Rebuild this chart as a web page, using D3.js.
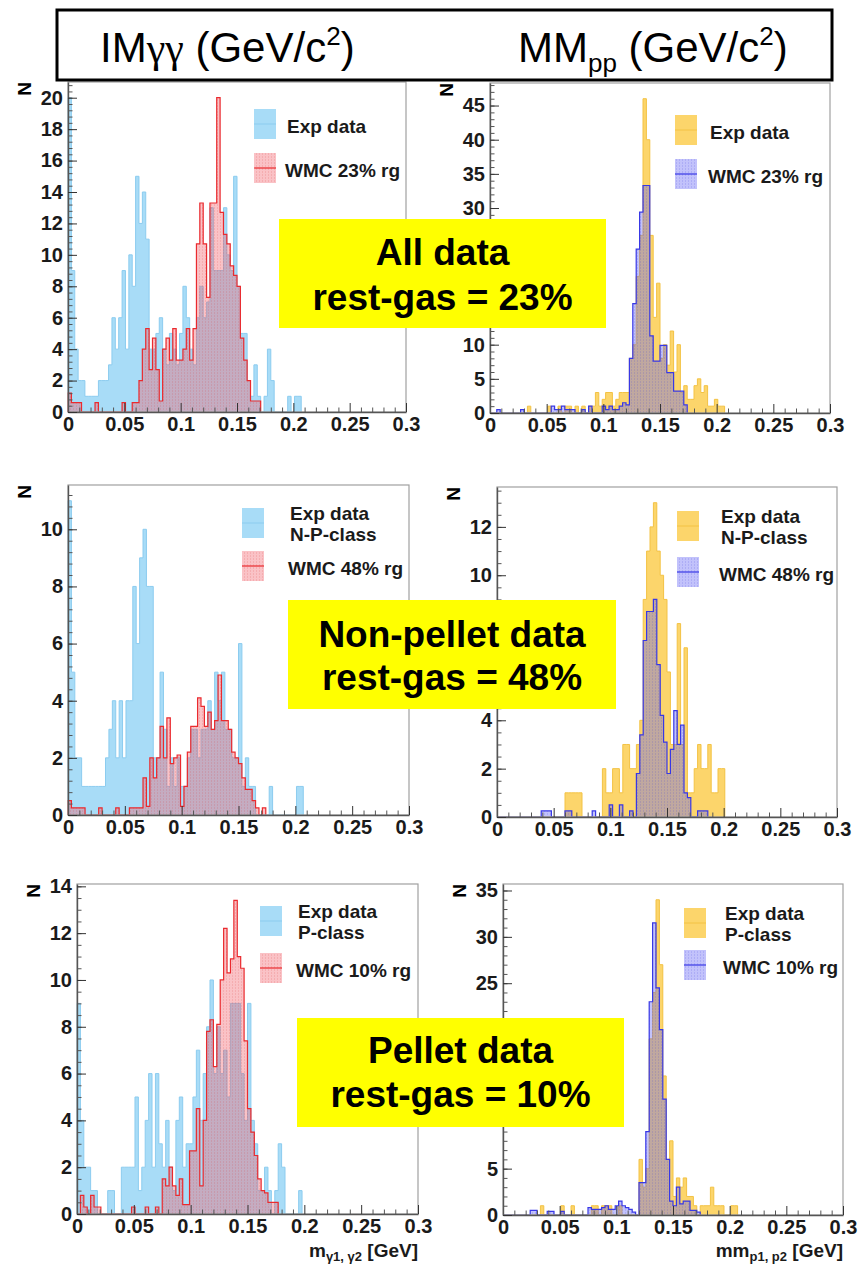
<!DOCTYPE html>
<html>
<head>
<meta charset="utf-8">
<script src="https://cdnjs.cloudflare.com/ajax/libs/d3/7.8.5/d3.min.js"></script>
<style>
  body { margin: 0; background: #fff; }
  svg { display: block; font-family: 'Liberation Sans', Arial, sans-serif; }
</style>
</head>
<body>
<div id="chart"></div>
<script>
var W = 859, H = 1267;
var binWidth = 0.003;
var xTicks = [0, 0.05, 0.1, 0.15, 0.2, 0.25, 0.3];

// histogram contents, one value per 0.003 GeV bin starting at 0
var imAllExp = [20, 9, 4, 2, 2, 1, 1, 1, 1, 2, 2, 2, 3, 6, 4, 6, 9, 4, 10, 8, 15, 12, 14, 11, 4, 4, 5, 6, 4, 3,
  5, 4, 3, 5, 8, 6, 4, 3, 6, 8, 6, 7, 13, 9, 9, 9, 13, 10, 9, 15, 8, 5, 5, 2, 1, 3, 1, 0, 1, 4,
  2, 0, 0, 0, 0, 1, 0, 1, 1];
var imAllMc = [1.2, 0.6, 0.6, 0.6, 0, 0, 0, 0, 0.6, 0, 0, 0, 0, 0, 0, 0, 0.6, 0, 0, 0.6, 0.6, 2, 4, 5.3, 2.7, 4.7, 2.7, 0.7, 4, 4.7,
  3.3, 5.3, 3.3, 3.3, 4, 5.3, 3.3, 5.3, 10.7, 13.3, 10.7, 7.3, 13.3, 13.3, 20, 12.7, 11.3, 10.7, 9.3, 8.7,
  8, 4.7, 3.3, 2, 0.7, 0.7, 0.7];

var mmAllExp = [0, 0, 0, 0, 0, 0, 0, 0, 0, 0, 0, 1, 0, 0, 0, 0, 0, 1, 0, 0, 1, 0, 1, 1, 0, 1, 0, 1, 0, 1,
  1, 3, 1, 2, 3, 3, 1, 2, 3, 3, 3, 8, 10, 20, 26, 46, 40, 26, 14, 19, 8, 10, 7, 12, 6, 10, 3, 4, 2, 2,
  4, 5, 3, 4, 1, 1, 2, 1, 1];
var mmAllMc = [0, 0, 0.5, 0, 0, 0, 0, 0, 0, 0.5, 0, 0, 0, 0, 0, 0, 0, 0, 1, 0.5, 0.5, 1, 0.5, 0.5, 0.5, 0, 0, 0.5, 0, 1,
  0, 0, 0, 1, 0.5, 1, 0.5, 0.5, 1, 1.5, 1.2, 8, 16, 24, 29.4, 33.3, 33.3, 11.3, 7.6, 7.6,
  9.9, 9.9, 5.9, 5.9, 3.2, 3.2, 3.2, 1.2];

var imNpExp = [11, 5, 2, 2, 1, 1, 1, 1, 1, 1, 1, 2, 3, 4, 2, 4, 2, 4, 4, 8, 6, 9, 10, 8, 8, 2, 2, 5, 3, 1,
  2, 1, 2, 1, 1, 2, 3, 3, 2, 3, 3, 4, 3, 5, 4, 5, 3, 3, 2, 2, 6, 1, 2, 1, 1, 0, 0, 0, 0, 1,
  0, 0, 0, 0, 0, 0, 0, 1, 1];
var imNpMc = [0.5, 0.25, 0.25, 0.25, 0.25, 0, 0, 0, 0, 0.25, 0, 0, 0, 0, 0.25, 0, 0, 0, 0.25, 0.25, 0.25, 0.25, 1.3, 0.3, 2, 1.3, 2, 3.1, 2, 3.4,
  1.8, 2, 2.1, 0.3, 1, 2.2, 3.1, 3.1, 4.1, 3.8, 3.1, 3.6, 3, 3.3, 4.9, 3.3, 3.3, 3, 2.2, 2,
  1.8, 1.3, 0.9, 0.9, 0.5, 0.25, 0, 0.25];

var mmNpExp = [0, 0, 0, 0, 0, 0, 0, 0, 0, 0, 0, 0, 0, 0, 0, 0, 0, 0, 0, 0, 1, 1, 1, 1, 1, 0, 0, 0, 0, 0,
  0, 2, 1, 1, 2, 2, 1, 3, 3, 2, 2, 3, 4, 9, 11, 12, 13, 11, 10, 9, 6, 3, 3, 8, 3, 7, 1, 1, 2, 3,
  2, 2, 3, 1, 1, 2, 2];
var mmNpMc = [0, 0, 0, 0, 0, 0, 0, 0, 0, 0, 0, 0, 0, 0.25, 0.25, 0.25, 0, 0, 0, 0, 0.25, 0.25, 0, 0, 0, 0, 0, 0, 0.25, 0,
  0, 0, 0, 0.5, 0, 0, 0.5, 0, 0, 0.25, 0, 1.8, 3.4, 7.3, 8.5, 8.5, 9, 6.3, 4.2, 3.1,
  1.8, 2.8, 4.4, 3, 3.8, 1, 0.8, 0, 0, 0.25, 0.25, 0.25];

var imPExp = [9, 4, 2, 2, 1, 1, 0, 0, 0, 1, 1, 0, 0, 2, 2, 2, 2, 5, 1, 2, 4, 6, 2, 6, 3, 2, 4, 2, 1, 4,
  5, 2, 3, 3, 5, 7, 4, 6, 8, 10, 6, 8, 6, 7, 5, 9, 9, 9, 6, 4, 9, 4, 3, 1, 1, 2, 1, 0, 1, 3,
  2, 0, 0, 0, 0, 1];
var imPMc = [0, 0.8, 0.3, 0, 0.8, 0.3, 0.3, 0, 0, 0, 0, 0, 0, 0, 0, 0, 0.3, 0, 0, 0, 0.3, 0, 0, 0.3, 0, 1.5, 1.2, 2, 1.2, 0.8,
  1.5, 0.4, 0.4, 2.7, 2.7, 4.5, 1.2, 4, 7.8, 8.3, 6.3, 8.1, 10, 12.2, 10.3, 10.9, 13.4, 11, 10.5, 7.4,
  4.5, 3.5, 2.5, 1.5, 1, 0.9, 0.5, 0.5, 0.5];

var mmPExp = [0, 0, 0, 0, 0, 0, 0, 0, 0, 0, 0, 1, 0, 0, 0, 0, 0, 1, 0, 0, 1, 0, 0, 0, 0, 0, 1, 1, 0, 1,
  1, 1, 0, 0, 1, 0, 0, 0, 0, 0, 6, 3, 5, 19, 24, 34, 27, 15, 6, 8, 2, 4, 3, 4, 2, 2, 1, 0, 1, 1,
  1, 3, 1, 1, 1, 0, 0, 1, 1];
var mmPMc = [0, 0, 0, 0, 0, 0, 0, 0, 0.5, 0.5, 0, 0, 0, 0.4, 0.4, 0, 0, 0.4, 0, 0, 0, 0, 0, 0, 0, 0.8, 0.6, 0.6, 0.6, 0.8,
  1, 0.6, 0.6, 1, 1.5, 1, 0.8, 0.6, 0.3, 0, 3.5, 3.5, 9, 23, 31.5, 24.5, 20, 12.5, 6, 1.5,
  1, 3, 1.2, 1.5, 1.5, 0.5, 0.5, 0.3];

var headerLabels = ["IM", "γγ", " (GeV/c", "2", ")"];
var boxTexts = [
  ["All data", "rest-gas = 23%"],
  ["Non-pellet data", "rest-gas = 48%"],
  ["Pellet data", "rest-gas = 10%"]
];

// yellow annotation boxes (page coordinates)
var boxes = [
  { x0: 279, x1: 606, y0: 219, y1: 328, b1: 265, b2: 310 },
  { x0: 288, x1: 616, y0: 600, y1: 709, b1: 647, b2: 690 },
  { x0: 297, x1: 624, y0: 1018, y1: 1127, b1: 1063, b2: 1107 }
];
function underBox(px, py) {
  return boxes.some(function(b) {
    return px >= b.x0 && px <= b.x1 && py >= b.y0 - 6 && py <= b.y1 + 6;
  });
}

var svg = d3.select("#chart").append("svg")
  .attr("width", W)
  .attr("height", H);

var defs = svg.append("defs");
function hatch(id, color) {
  var p = defs.append("pattern")
    .attr("id", id)
    .attr("width", 3)
    .attr("height", 3)
    .attr("patternUnits", "userSpaceOnUse");
  p.append("rect").attr("x", 1).attr("y", 0).attr("width", 1).attr("height", 2).attr("fill", color);
}
hatch("hatchRed", "rgba(215,60,60,0.16)");
hatch("hatchBlue", "rgba(60,60,215,0.16)");

var expBlue = { fill: "#a8dcf7", line: "#8cccef" };
var expYellow = { fill: "#fcd56b", line: "#f3c244" };
var mcRed = { fill: "rgba(242,95,105,0.38)", line: "#ea2a2e", pattern: "url(#hatchRed)" };
var mcBlue = { fill: "rgba(95,95,245,0.38)", line: "#3838e6", pattern: "url(#hatchBlue)" };

var panels = [
  { left: 68, right: 406, top: 82, bottom: 412, ymax: 21, major: 2, minor: 0.4,
    exp: imAllExp, mc: imAllMc, expStyle: expBlue, mcStyle: mcRed,
    leg: { x: 254, tx: 287, y1: 109, y2: 153, exp: ["Exp data"], mc: "WMC 23% rg" } },
  { left: 490, right: 830, top: 83, bottom: 413, ymax: 48.3, major: 5, minor: 1,
    exp: mmAllExp, mc: mmAllMc, expStyle: expYellow, mcStyle: mcBlue,
    leg: { x: 675, tx: 710, y1: 115, y2: 159, exp: ["Exp data"], mc: "WMC 23% rg" } },
  { left: 68, right: 409, top: 485, bottom: 815, ymax: 11.55, major: 2, minor: 0.4,
    exp: imNpExp, mc: imNpMc, expStyle: expBlue, mcStyle: mcRed,
    leg: { x: 242, tx: 290, y1: 508, y2: 551, exp: ["Exp data", "N-P-class"], mc: "WMC 48% rg" } },
  { left: 497, right: 837, top: 487, bottom: 817, ymax: 13.65, major: 2, minor: 0.5,
    exp: mmNpExp, mc: mmNpMc, expStyle: expYellow, mcStyle: mcBlue,
    leg: { x: 677, tx: 721, y1: 511, y2: 557, exp: ["Exp data", "N-P-class"], mc: "WMC 48% rg" } },
  { left: 77, right: 418, top: 884, bottom: 1214, ymax: 14.1, major: 2, minor: 0.5,
    exp: imPExp, mc: imPMc, expStyle: expBlue, mcStyle: mcRed,
    leg: { x: 260, tx: 298, y1: 906, y2: 953, exp: ["Exp data", "P-class"], mc: "WMC 10% rg" },
    title: ["m", "γ1, γ2", " [GeV]"] },
  { left: 503, right: 843, top: 884, bottom: 1215, ymax: 35.7, major: 5, minor: 1,
    exp: mmPExp, mc: mmPMc, expStyle: expYellow, mcStyle: mcBlue,
    leg: { x: 684, tx: 725, y1: 908, y2: 950, exp: ["Exp data", "P-class"], mc: "WMC 10% rg" },
    title: ["mm", "p1, p2", " [GeV]"] }
];

function steps(vals) {
  return vals.map(function(v, i) { return { x: i * binWidth, y: v }; })
    .concat([{ x: vals.length * binWidth, y: 0 }]);
}

function drawPanel(p) {
  var x = d3.scaleLinear().domain([0, 0.3]).range([p.left, p.right]);
  var y = d3.scaleLinear().domain([0, p.ymax]).range([p.bottom, p.top]);
  var g = svg.append("g");

  var area = d3.area().curve(d3.curveStepAfter)
    .x(function(d) { return x(d.x); })
    .y0(y(0))
    .y1(function(d) { return y(d.y); });
  var line = d3.line().curve(d3.curveStepAfter)
    .x(function(d) { return x(d.x); })
    .y(function(d) { return y(d.y); });

  var e = steps(p.exp), m = steps(p.mc);

  // experimental data
  g.append("path").attr("d", area(e)).attr("fill", p.expStyle.fill);
  g.append("path").attr("d", line([{ x: 0, y: 0 }].concat(e)))
    .attr("fill", "none").attr("stroke", p.expStyle.line).attr("stroke-width", 1);

  // weighted MC
  g.append("path").attr("d", area(m)).attr("fill", p.mcStyle.fill);
  g.append("path").attr("d", area(m)).attr("fill", p.mcStyle.pattern);
  g.append("path").attr("d", line([{ x: 0, y: 0 }].concat(m)))
    .attr("fill", "none").attr("stroke", p.mcStyle.line).attr("stroke-width", 1.2);

  // frame
  g.append("rect")
    .attr("x", p.left).attr("y", p.top)
    .attr("width", p.right - p.left).attr("height", p.bottom - p.top)
    .attr("fill", "none").attr("stroke", "#a0a0a0").attr("stroke-width", 1.2);

  // axes
  var xMinor = d3.range(0, 31).filter(function(i) { return i % 5 !== 0; }).map(function(i) { return i * 0.01; });
  var nMinor = Math.floor(p.ymax / p.minor + 1e-6);
  var yMinor = d3.range(0, nMinor + 1).map(function(i) { return i * p.minor; });
  var nMajor = Math.floor(p.ymax / p.major + 1e-6);
  var yMajor = d3.range(0, nMajor + 1).map(function(i) { return i * p.major; });

  g.append("g")
    .attr("transform", "translate(0," + p.bottom + ")")
    .call(d3.axisBottom(x).tickValues(xMinor).tickSize(-4.5).tickSizeOuter(0).tickFormat(""))
    .call(function(a) { a.select(".domain").remove(); a.selectAll("line").attr("stroke", "#555"); });

  g.append("g")
    .attr("transform", "translate(" + p.left + ",0)")
    .call(d3.axisLeft(y).tickValues(yMinor).tickSize(-4.5).tickSizeOuter(0).tickFormat(""))
    .call(function(a) { a.select(".domain").remove(); a.selectAll("line").attr("stroke", "#555"); });

  g.append("g")
    .attr("transform", "translate(0," + p.bottom + ")")
    .call(d3.axisBottom(x).tickValues(xTicks).tickSize(-9).tickSizeOuter(0).tickPadding(5).tickFormat(d3.format("~g")))
    .attr("font-size", 20).attr("font-weight", "bold").attr("font-family", "'Liberation Sans', Arial, sans-serif")
    .call(function(a) { a.select(".domain").attr("stroke", "#555").attr("stroke-width", 1.4); a.selectAll("line").attr("stroke", "#333"); a.selectAll("text").attr("fill", "#1a1a1a"); });

  // y labels hidden by a yellow box in the reference are left out
  g.append("g")
    .attr("transform", "translate(" + p.left + ",0)")
    .call(d3.axisLeft(y).tickValues(yMajor).tickSize(-9).tickSizeOuter(0).tickPadding(5).tickFormat(d3.format("d")))
    .attr("font-size", 20).attr("font-weight", "bold").attr("font-family", "'Liberation Sans', Arial, sans-serif")
    .call(function(a) {
      a.select(".domain").attr("stroke", "#555").attr("stroke-width", 1.4);
      a.selectAll("line").attr("stroke", "#333");
      a.selectAll("text").attr("fill", "#1a1a1a")
        .filter(function(d) { return underBox(p.left - 10, y(d)); }).remove();
    });

  // y title
  g.append("text")
    .attr("transform", "translate(" + (p.left - 37) + "," + p.top + ") rotate(-90)")
    .attr("text-anchor", "end")
    .attr("font-size", 19).attr("font-weight", "bold")
    .text("N");

  // x title (bottom row only)
  if (p.title) {
    var t = g.append("text")
      .attr("x", p.right).attr("y", 1257)
      .attr("text-anchor", "end")
      .attr("font-size", 19).attr("font-weight", "bold").attr("fill", "#1a1a1a");
    t.append("tspan").text(p.title[0]);
    t.append("tspan").attr("font-size", 13).attr("dy", 4).text(p.title[1]);
    t.append("tspan").attr("dy", -4).text(p.title[2]);
  }

  // legend
  var L = p.leg;
  var lg = g.append("g").attr("font-size", 19).attr("font-weight", "bold").attr("fill", "#1a1a1a");
  lg.append("rect").attr("x", L.x).attr("y", L.y1).attr("width", 22).attr("height", 30).attr("fill", p.expStyle.fill);
  lg.append("line").attr("x1", L.x).attr("x2", L.x + 22).attr("y1", L.y1 + 15).attr("y2", L.y1 + 15)
    .attr("stroke", p.expStyle.line).attr("stroke-width", 1);
  lg.append("rect").attr("x", L.x).attr("y", L.y2).attr("width", 22).attr("height", 30).attr("fill", p.mcStyle.fill);
  lg.append("rect").attr("x", L.x).attr("y", L.y2).attr("width", 22).attr("height", 30).attr("fill", p.mcStyle.pattern);
  lg.append("line").attr("x1", L.x).attr("x2", L.x + 22).attr("y1", L.y2 + 15).attr("y2", L.y2 + 15)
    .attr("stroke", p.mcStyle.line).attr("stroke-width", 1.2);

  if (L.exp.length === 1) {
    lg.append("text").attr("x", L.tx).attr("y", L.y1 + 24).text(L.exp[0]);
  } else {
    lg.append("text").attr("x", L.tx).attr("y", L.y1 + 12).text(L.exp[0]);
    lg.append("text").attr("x", L.tx).attr("y", L.y1 + 33).text(L.exp[1]);
  }
  lg.append("text").attr("x", L.tx - 2).attr("y", L.y2 + 24).text(L.mc);
}

panels.forEach(drawPanel);

boxes.forEach(function(b, i) {
  svg.append("rect")
    .attr("x", b.x0).attr("y", b.y0)
    .attr("width", b.x1 - b.x0).attr("height", b.y1 - b.y0)
    .attr("fill", "#ffff00");
  var cx = (b.x0 + b.x1) / 2;
  svg.append("text").attr("x", cx).attr("y", b.b1).attr("text-anchor", "middle")
    .attr("font-size", 37).attr("font-weight", "bold").text(boxTexts[i][0]);
  svg.append("text").attr("x", cx).attr("y", b.b2).attr("text-anchor", "middle")
    .attr("font-size", 37).attr("font-weight", "bold").text(boxTexts[i][1]);
});

// header box
svg.append("rect")
  .attr("x", 57).attr("y", 10)
  .attr("width", 775).attr("height", 70)
  .attr("fill", "#fff").attr("stroke", "#000").attr("stroke-width", 3);

var h1 = svg.append("text").attr("x", 100).attr("y", 62).attr("font-size", 42);
h1.append("tspan").text(headerLabels[0]);
h1.append("tspan").attr("font-family", "'Liberation Serif', serif").text(headerLabels[1]);
h1.append("tspan").text(headerLabels[2]);
h1.append("tspan").attr("font-size", 26).attr("dy", -17).text(headerLabels[3]);
h1.append("tspan").attr("dy", 17).text(headerLabels[4]);

var h2 = svg.append("text").attr("x", 518).attr("y", 62).attr("font-size", 42);
h2.append("tspan").text("MM");
h2.append("tspan").attr("font-size", 26).attr("dy", 10).text("pp");
h2.append("tspan").attr("dy", -10).text(headerLabels[2]);
h2.append("tspan").attr("font-size", 26).attr("dy", -17).text(headerLabels[3]);
h2.append("tspan").attr("dy", 17).text(headerLabels[4]);
</script>
</body>
</html>
